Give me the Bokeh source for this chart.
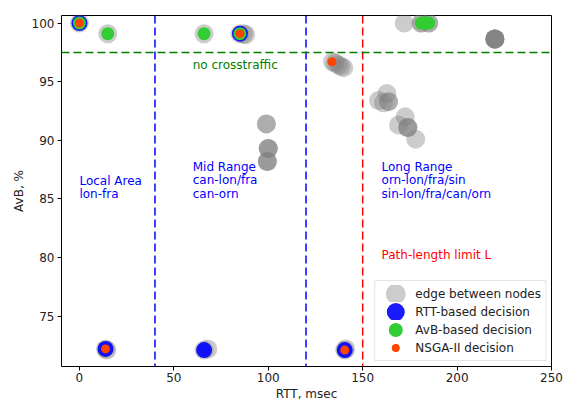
import math
from bokeh.plotting import figure
from bokeh.models import Span, FixedTicker, Legend, LegendItem
from bokeh.core.properties import value
from bokeh.embed import file_html
from bokeh.resources import INLINE

# ---- data ----
# every edge between nodes (several edges share the same RTT / AvB values)
edge_rtt = [0, 15, 66, 85, 87, 88,
            13.8, 14.5, 66, 68, 140.5, 141,
            99, 99, 100, 100, 100, 99.5, 99.5, 99.5,
            134, 135.5, 137, 138.5, 140,
            172, 181, 181, 185, 185,
            220, 220, 220, 220, 220, 220,
            158.4, 162.8, 163.7, 163.7, 161,
            172.5, 169, 173.9, 173.9, 173.9, 178.1]
edge_avb = [100, 99.1, 99.1, 99.1, 99.1, 99.0,
            72.2, 72.1, 72.1, 72.2, 72.1, 72.2,
            91.4, 91.4, 89.3, 89.3, 89.3, 88.2, 88.2, 88.2,
            96.7, 96.6, 96.45, 96.3, 96.2,
            100, 100, 100, 100, 100,
            98.65, 98.65, 98.65, 98.65, 98.65, 98.65,
            93.4, 94.0, 93.3, 93.3, 93.2,
            92.0, 91.3, 91.1, 91.1, 91.1, 90.1]

rtt_dec_rtt = [0, 85, 13.8, 66, 140.5]
rtt_dec_avb = [100, 99.1, 72.2, 72.1, 72.1]

avb_dec_rtt = [0, 15, 66, 85, 181, 183, 185]
avb_dec_avb = [100, 99.1, 99.1, 99.1, 100, 100, 100]

nsga_rtt = [0, 85, 13.8, 140.5, 133.7]
nsga_avb = [100, 99.1, 72.2, 72.1, 96.7]

range_bounds = [40, 120]
path_limit = [150]
crosstraffic_level = [97.5]

x_ticks = [0, 50, 100, 150, 200, 250]
y_ticks = [75, 80, 85, 90, 95, 100]

# region annotations (one entry per text line)
region_text = ["Local Area", "lon-fra",
               "Mid Range", "can-lon/fra", "can-orn",
               "Long Range", "orn-lon/fra/sin", "sin-lon/fra/can/orn"]
region_x = [0, 0, 60, 60, 60, 160, 160, 160]
region_y = [86.55, 85.4, 87.75, 86.6, 85.45, 87.75, 86.6, 85.45]

FONT = "DejaVu Sans"
FS = "12px"
TXT = "#222222"

p = figure(width=565, height=403, output_backend="svg", toolbar_location=None,
           x_range=(-9.5, 250), y_range=(70.7, 100.65),
           min_border_left=61, min_border_top=15, min_border_right=14, min_border_bottom=30)
p.xgrid.visible = False
p.ygrid.visible = False
p.outline_line_color = "black"
p.outline_line_width = 1
p.background_fill_color = "white"

for ax in (p.xaxis[0], p.yaxis[0]):
    ax.major_label_text_font = FONT
    ax.major_label_text_font_size = FS
    ax.major_label_text_color = TXT
    ax.axis_label_text_font = FONT
    ax.axis_label_text_font_size = FS
    ax.axis_label_text_font_style = "normal"
    ax.axis_label_text_color = TXT
    ax.minor_tick_line_color = None
    ax.major_tick_in = 0
    ax.major_tick_out = 4
    ax.axis_line_color = None
    ax.major_label_standoff = 3
    ax.axis_label_standoff = 3
p.xaxis.major_label_standoff = 2
p.xaxis.axis_label_standoff = 2
p.xaxis.ticker = FixedTicker(ticks=x_ticks)
p.yaxis.ticker = FixedTicker(ticks=y_ticks)
p.xaxis.axis_label = "RTT, msec"
p.yaxis.axis_label = "AvB, %"

# threshold lines
for loc in range_bounds:
    p.add_layout(Span(location=loc, dimension="height", line_color="blue",
                      line_dash="8 4", line_width=1.5))
for loc in path_limit:
    p.add_layout(Span(location=loc, dimension="height", line_color="red",
                      line_dash="8 4", line_width=1.5))
for loc in crosstraffic_level:
    p.add_layout(Span(location=loc, dimension="width", line_color="green",
                      line_dash="8 4", line_width=1.5))

# markers
p.scatter(edge_rtt, edge_avb, size=19, fill_color="grey", fill_alpha=0.4, line_color=None)
p.scatter(rtt_dec_rtt, rtt_dec_avb, size=16, fill_color="blue", fill_alpha=0.9, line_color=None)
p.scatter(avb_dec_rtt, avb_dec_avb, size=13, fill_color="#32cd32", fill_alpha=1.0, line_color=None)
p.scatter(nsga_rtt, nsga_avb, size=9, fill_color="#ff4500", fill_alpha=1.0, line_color=None)

# texts
p.text(x=region_x, y=region_y, text=region_text, text_color="blue",
       text_font=value(FONT), text_font_size=FS, text_align="left",
       text_baseline="middle")
p.text(x=[60], y=[96.4], text=["no crosstraffic"], text_color="green",
       text_font=value(FONT), text_font_size=FS, text_align="left", text_baseline="middle")
p.text(x=[160], y=[80.2], text=["Path-length limit L"], text_color="red",
       text_font=value(FONT), text_font_size=FS, text_align="left", text_baseline="middle")

# legend-only renderers
nan = [math.nan]
lg_h = 17
base = 0.4 * lg_h
def leg(color, diam):
    return p.scatter(nan, nan, size=base, fill_color=color, line_color=color,
                     line_width=max(diam - base, 0.1))
r1 = leg("#cccccc", 20)
r2 = leg("#1a1aff", 18)
r3 = leg("#32cd32", 14)
r4 = leg("#ff4500", 8)

legend = Legend(items=[LegendItem(label="edge between nodes", renderers=[r1]),
                       LegendItem(label="RTT-based decision", renderers=[r2]),
                       LegendItem(label="AvB-based decision", renderers=[r3]),
                       LegendItem(label="NSGA-II decision", renderers=[r4])],
                location="bottom_right")
legend.glyph_height = lg_h
legend.glyph_width = 32
legend.label_height = lg_h
legend.spacing = 1
legend.padding = 4
legend.margin = 5
legend.label_standoff = 4
legend.label_text_font = FONT
legend.label_text_font_size = FS
legend.label_text_color = TXT
legend.border_line_color = "#cccccc"
legend.background_fill_alpha = 0.8
p.add_layout(legend, "center")

open("out.html", "w").write(file_html(p, INLINE))
